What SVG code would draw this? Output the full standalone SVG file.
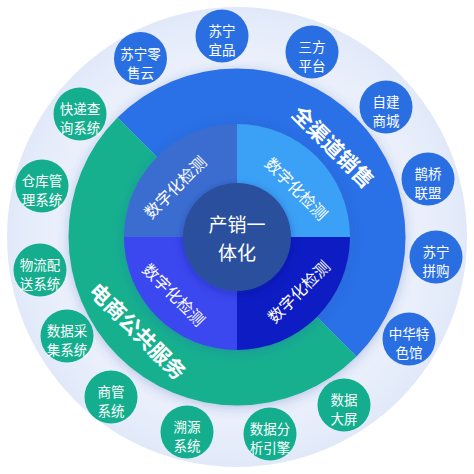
<svg xmlns="http://www.w3.org/2000/svg" width="474" height="474" viewBox="0 0 474 474">
<defs>
<radialGradient id="outerG" cx="237" cy="237" r="230" gradientUnits="userSpaceOnUse">
<stop offset="0.7" stop-color="#eef2fc"/>
<stop offset="1" stop-color="#e1e9f9"/>
</radialGradient>
<filter id="sh" x="-20%" y="-20%" width="140%" height="140%">
<feDropShadow dx="0" dy="2" stdDeviation="6" flood-color="#2a4fb0" flood-opacity="0.3"/>
</filter>
<filter id="sh2" x="-30%" y="-30%" width="160%" height="160%">
<feDropShadow dx="0" dy="2" stdDeviation="4" flood-color="#0a1f70" flood-opacity="0.3"/>
</filter>
</defs>
<style>
text{font-family:"Noto Sans CJK SC","Noto Sans",sans-serif;fill:#fff;text-anchor:middle;dominant-baseline:central}
.s{font-size:13.5px}
.ring{font-size:21px;font-weight:600}
.q{font-size:16px}
.c{font-size:19px}
.bc{fill:#2a6fe2}
.gc{fill:#14ae8e}
</style>
<rect width="474" height="474" fill="#fff"/>
<g id="outer-ring">
<circle cx="237" cy="237" r="230" fill="url(#outerG)"/>
</g>
<g id="middle-ring" filter="url(#sh)">
<path d="M117.5 117.5 A169 169 0 0 1 356.5 356.5 Z" fill="#2a6fe6"/>
<path d="M356.5 356.5 A169 169 0 0 1 117.5 117.5 Z" fill="#13b08f"/>
</g>
<g id="ring-labels">
<text class="ring" transform="translate(334 146) rotate(45)">全渠道销售</text>
<text class="ring" transform="translate(138.5 330.5) rotate(45)">电商公共服务</text>
</g>
<g id="inner-circle" filter="url(#sh)">
<path d="M237 237 L124 237 A113 113 0 0 1 237 124 Z" fill="#3b6dd1"/>
<path d="M237 237 L237 124 A113 113 0 0 1 350 237 Z" fill="#3aa1f6"/>
<path d="M237 237 L350 237 A113 113 0 0 1 237 350 Z" fill="#0c1fc3"/>
<path d="M237 237 L237 350 A113 113 0 0 1 124 237 Z" fill="#3a46ef"/>
</g>
<g id="quadrant-labels">
<text class="q" transform="translate(174.5 186.5) rotate(-45)">数字化检测</text>
<text class="q" transform="translate(297 188) rotate(45)">数字化检测</text>
<text class="q" transform="translate(174.5 294) rotate(45)">数字化检测</text>
<text class="q" transform="translate(298 291) rotate(-45)">数字化检测</text>
</g>
<g id="center" filter="url(#sh2)">
<circle cx="237" cy="237" r="54" fill="#2c4f9c"/>
</g>
<g id="center-label">
<text class="c" x="237" y="223.5">产销一</text>
<text class="c" x="237" y="251.5">体化</text>
</g>
<g id="connectors"></g>
<g id="n-suning-ls">
<circle class="bc" cx="140.5" cy="58.5" r="26.5"/>
<text class="s" x="140.5" y="52.5">苏宁零</text><text class="s" x="140.5" y="71.5">售云</text>
</g>
<g id="n-suning-yp">
<circle class="bc" cx="222" cy="36" r="26.5"/>
<text class="s" x="222" y="30">苏宁</text><text class="s" x="222" y="49">宜品</text>
</g>
<g id="n-sanfang">
<circle class="bc" cx="312" cy="52" r="26.5"/>
<text class="s" x="312" y="46">三方</text><text class="s" x="312" y="65">平台</text>
</g>
<g id="n-zijian">
<circle class="bc" cx="386" cy="107" r="26.5"/>
<text class="s" x="386" y="101">自建</text><text class="s" x="386" y="120">商城</text>
</g>
<g id="n-queqiao">
<circle class="bc" cx="428" cy="179" r="26.5"/>
<text class="s" x="428" y="173">鹊桥</text><text class="s" x="428" y="192">联盟</text>
</g>
<g id="n-pingou">
<circle class="bc" cx="436" cy="257" r="26.5"/>
<text class="s" x="436" y="251">苏宁</text><text class="s" x="436" y="270">拼购</text>
</g>
<g id="n-zhonghua">
<circle class="bc" cx="409" cy="339" r="26.5"/>
<text class="s" x="409" y="333">中华特</text><text class="s" x="409" y="352">色馆</text>
</g>
<g id="n-dapin">
<circle class="gc" cx="344" cy="405" r="26.5"/>
<text class="s" x="344" y="399">数据</text><text class="s" x="344" y="418">大屏</text>
</g>
<g id="n-fenxi">
<circle class="gc" cx="270" cy="434" r="26.5"/>
<text class="s" x="270" y="428">数据分</text><text class="s" x="270" y="447">析引擎</text>
</g>
<g id="n-suyuan">
<circle class="gc" cx="187" cy="432" r="26.5"/>
<text class="s" x="187" y="426">溯源</text><text class="s" x="187" y="445">系统</text>
</g>
<g id="n-shangguan">
<circle class="gc" cx="111" cy="397" r="26.5"/>
<text class="s" x="111" y="391">商管</text><text class="s" x="111" y="410">系统</text>
</g>
<g id="n-caiji">
<circle class="gc" cx="67" cy="336" r="26.5"/>
<text class="s" x="67" y="330">数据采</text><text class="s" x="67" y="349">集系统</text>
</g>
<g id="n-wuliu">
<circle class="gc" cx="40" cy="270" r="26.5"/>
<text class="s" x="40" y="264">物流配</text><text class="s" x="40" y="283">送系统</text>
</g>
<g id="n-cangku">
<circle class="gc" cx="42" cy="186" r="26.5"/>
<text class="s" x="42" y="180">仓库管</text><text class="s" x="42" y="199">理系统</text>
</g>
<g id="n-kuaidi">
<circle class="gc" cx="80" cy="114" r="26.5"/>
<text class="s" x="80" y="108">快递查</text><text class="s" x="80" y="127">询系统</text>
</g>
</svg>
